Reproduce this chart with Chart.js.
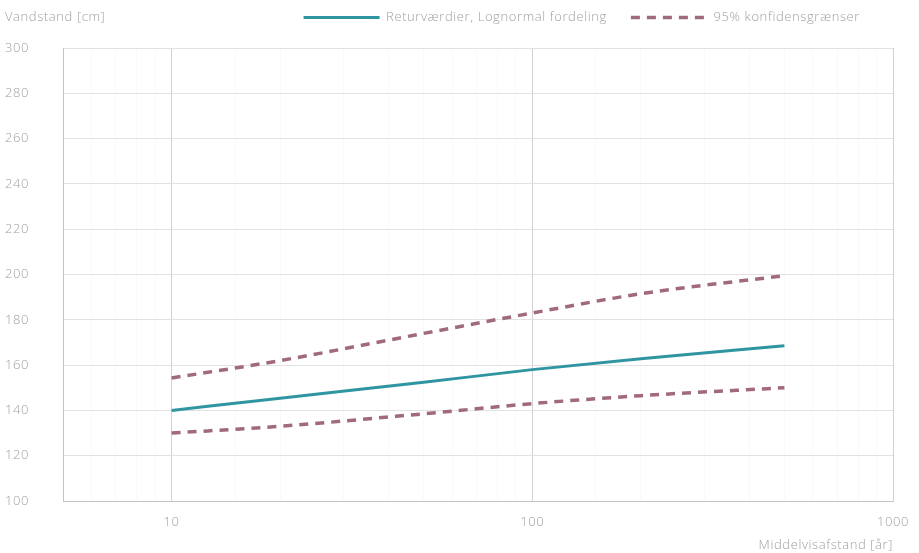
<!DOCTYPE html>
<html>
<head>
<meta charset="utf-8">
<script src="https://cdn.jsdelivr.net/npm/chart.js@4/dist/chart.umd.min.js"></script>
<style>
  html, body { margin: 0; padding: 0; background: #fff; }
  #wrap { width: 919px; height: 553px; position: relative; }
</style>
</head>
<body>
<div id="wrap"><canvas id="c"></canvas></div>
<script>
// Return periods (years) and water levels (cm)
const returnPeriods = [10, 20, 50, 100, 200, 500];
const returnLevels  = [140, 145.4, 152.4, 158, 162.8, 168.5];
const upperBound    = [154.3, 162, 174, 183, 191.5, 199.5];
const lowerBound    = [130, 133, 138.5, 143, 146.5, 150];
const yTicks = [100, 120, 140, 160, 180, 200, 220, 240, 260, 280, 300];

const seriesLabels = ['Returværdier, Lognormal fordeling', '95% konfidensgrænser'];
const yTitle = 'Vandstand [cm]';
const xTitle = 'Middelvisafstand [år]';

const TEXT = '#a0a0a0';
const FONT = '"Open Sans", Lato, sans-serif';
const MAUVE = '#a06a7c';
const TEAL = '#2f95a0';

const toPts = (xs, ys) => xs.map((x, i) => ({ x, y: ys[i] }));

// Slightly airy lettering for all chart text
const spacingPlugin = {
  id: 'letterSpacing',
  beforeLayout(chart) { chart.ctx.letterSpacing = '0.6px'; },
  beforeDraw(chart) { chart.ctx.letterSpacing = '0.6px'; }
};

// Legend row lifted toward the top edge and pulled in from the right edge
const legendPlugin = {
  id: 'legendSpacing',
  afterInit(chart) {
    const lg = chart.legend;
    const fit = lg.fit;
    lg.fit = function () { fit.call(this); this.height += 1; };
  },
  afterLayout(chart) {
    const lg = chart.legend;
    lg.right -= 23;
    lg.top -= 13;
    lg.bottom -= 13;
  }
};

// Vertical-axis title in the top left corner, level with the legend
const yTitlePlugin = {
  id: 'yTitleTop',
  afterDraw(chart) {
    const { ctx } = chart;
    ctx.save();
    ctx.letterSpacing = '0.6px';
    ctx.font = '300 13px ' + FONT;
    ctx.fillStyle = TEXT;
    ctx.textBaseline = 'middle';
    ctx.textAlign = 'left';
    ctx.fillText(yTitle, 5, chart.legend.top + 24 + 6.5);
    ctx.restore();
  }
};

const isDecade = (v) => { const l = Math.log10(v); return Math.abs(l - Math.round(l)) < 1e-9; };

new Chart(document.getElementById('c'), {
  type: 'line',
  data: {
    datasets: [
      {
        label: seriesLabels[0],
        data: toPts(returnPeriods, returnLevels),
        borderColor: TEAL,
        backgroundColor: TEAL,
        borderWidth: 3,
        pointRadius: 0,
        pointStyle: 'line',
        cubicInterpolationMode: 'monotone'
      },
      {
        label: seriesLabels[1],
        data: toPts(returnPeriods, upperBound),
        borderColor: MAUVE,
        backgroundColor: MAUVE,
        borderWidth: 3.5,
        borderDash: [9, 7],
        pointRadius: 0,
        pointStyle: 'line',
        cubicInterpolationMode: 'monotone'
      },
      {
        label: seriesLabels[1] + ' (nedre)',
        data: toPts(returnPeriods, lowerBound),
        borderColor: MAUVE,
        backgroundColor: MAUVE,
        borderWidth: 3.5,
        borderDash: [9, 7],
        pointRadius: 0,
        pointStyle: 'line',
        cubicInterpolationMode: 'monotone'
      }
    ]
  },
  options: {
    responsive: true,
    maintainAspectRatio: false,
    animation: false,
    layout: { padding: { left: 5, right: 12, top: 0, bottom: 0 } },
    plugins: {
      legend: {
        position: 'top',
        align: 'end',
        labels: {
          generateLabels: (chart) => {
            const items = Chart.defaults.plugins.legend.labels.generateLabels(chart);
            return items
              .filter(it => it.datasetIndex < 2)
              .map(it => {
                const ds = chart.data.datasets[it.datasetIndex];
                it.lineDash = ds.borderDash || [];
                it.lineWidth = ds.borderWidth;
                it.strokeStyle = ds.borderColor;
                return it;
              });
          },
          usePointStyle: true,
          pointStyleWidth: 76,
          boxWidth: 76,
          boxHeight: 8,
          padding: 24,
          color: TEXT,
          font: { family: FONT, size: 13, weight: '300' }
        }
      },
      tooltip: { enabled: false }
    },
    scales: {
      x: {
        type: 'logarithmic',
        min: 5,
        max: 1000,
        afterFit: (s) => { s.height = 52; s.paddingRight = 26; },
        border: { color: '#c4c4c4' },
        grid: {
          color: (ctx) => isDecade(ctx.tick ? ctx.tick.value : 0) ? '#d2d2d2' : 'rgba(0,0,0,0.025)',
          drawTicks: false
        },
        ticks: {
          color: TEXT,
          font: { family: FONT, size: 13, weight: '300' },
          padding: 13,
          autoSkip: false,
          maxRotation: 0,
          callback: (v) => (isDecade(v) && v >= 10 ? String(v) : '')
        },
        title: {
          display: true,
          text: xTitle,
          align: 'end',
          color: TEXT,
          font: { family: FONT, size: 13, weight: '300' },
          padding: { top: 4, bottom: 0 }
        }
      },
      y: {
        min: 100,
        max: 300,
        afterBuildTicks: (scale) => { scale.ticks = yTicks.map(v => ({ value: v })); },
        afterFit: (s) => { s.width = 58; },
        border: { color: '#c4c4c4' },
        grid: { color: '#e2e2e2', drawTicks: false },
        ticks: {
          color: TEXT,
          font: { family: FONT, size: 13, weight: '300' },
          padding: 28,
          crossAlign: 'far'
        }
      }
    }
  },
  plugins: [spacingPlugin, legendPlugin, yTitlePlugin]
});
</script>
</body>
</html>
